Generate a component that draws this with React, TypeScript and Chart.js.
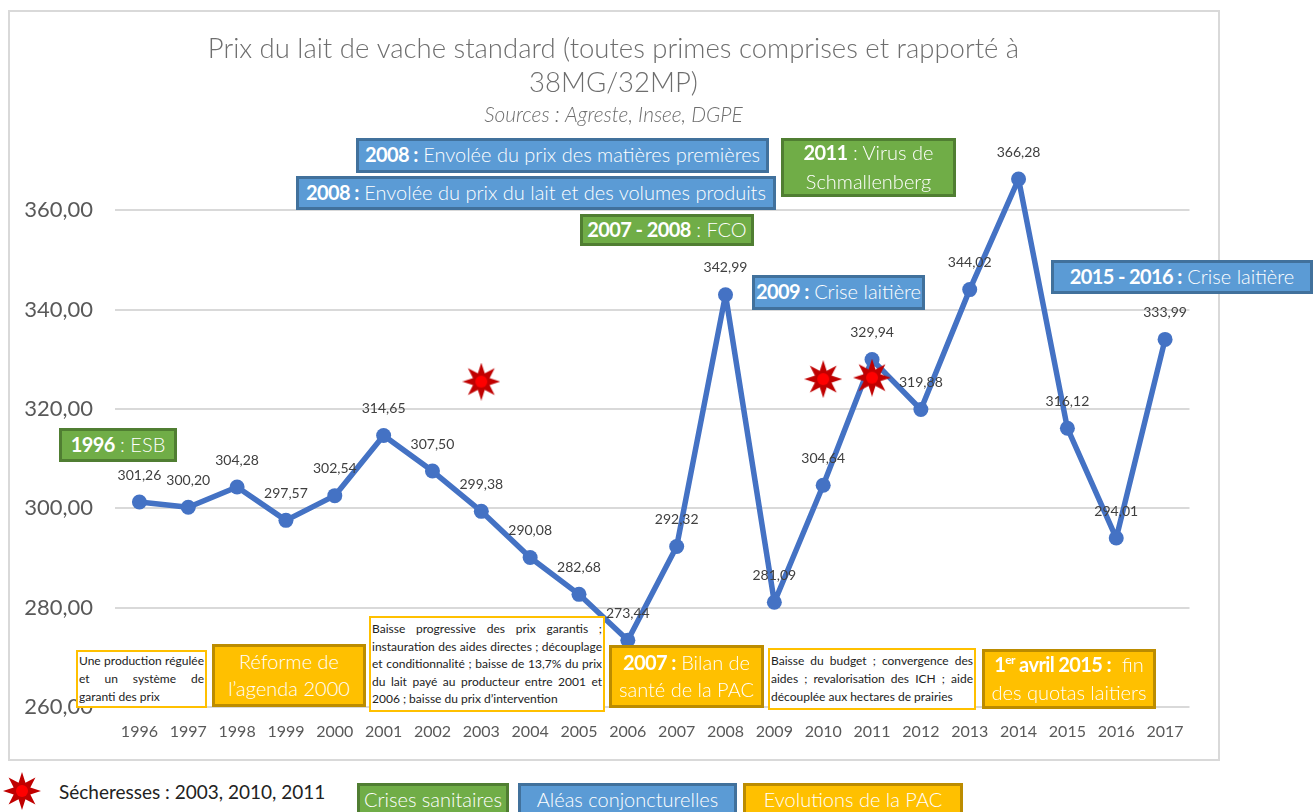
import React, { useEffect, useRef } from "react";
import { Chart, registerables } from "chart.js";

Chart.register(...registerables);

const years = ["1996","1997","1998","1999","2000","2001","2002","2003","2004","2005","2006","2007","2008","2009","2010","2011","2012","2013","2014","2015","2016","2017"];
const prices = [301.26,300.20,304.28,297.57,302.54,314.65,307.50,299.38,290.08,282.68,273.44,292.32,342.99,281.09,304.64,329.94,319.88,344.02,366.28,316.12,294.01,333.99];
const droughtMarks = [null,null,null,null,null,null,null,325.5,null,null,null,null,null,null,326,326.3,null,null,null,null,null,null];
const yTicks = [260,280,300,320,340,360];
const titleLines = ["Prix du lait de vache standard (toutes primes comprises et rapporté à", "38MG/32MP)"];
const subtitleText = "Sources : Agreste, Insee, DGPE";

const FONT = "Lato, 'Noto Sans', sans-serif";
const BLUE = { bg: "#5b9bd5", bd: "#41719c" };
const GREEN = { bg: "#70ad47", bd: "#507e32" };
const GOLD = { bg: "#ffc000", bd: "#bc8c00" };

function starPath(ctx: CanvasRenderingContext2D, c: number, R: number, r: number) {
  ctx.beginPath();
  for (let i = 0; i < 16; i++) {
    const a = -Math.PI / 2 + (i * Math.PI) / 8;
    const q = i % 2 === 0 ? R : r;
    const x = c + q * Math.cos(a);
    const y = c + q * Math.sin(a);
    if (i === 0) ctx.moveTo(x, y); else ctx.lineTo(x, y);
  }
  ctx.closePath();
}

function makeStar(): HTMLCanvasElement {
  const cv = document.createElement("canvas");
  cv.width = 38; cv.height = 38;
  const ctx = cv.getContext("2d")!;
  starPath(ctx, 19, 19, 9);
  ctx.fillStyle = "#c00000";
  ctx.fill();
  ctx.beginPath();
  ctx.arc(19, 19, 6, 0, Math.PI * 2);
  ctx.fillStyle = "#ff0000";
  ctx.fill();
  return cv;
}

const valueLabels = {
  id: "valueLabels",
  afterDatasetsDraw(chart: any) {
    const meta = chart.getDatasetMeta(0);
    const ctx = chart.ctx;
    ctx.save();
    ctx.font = `14px ${FONT}`;
    ctx.fillStyle = "#404040";
    ctx.textAlign = "center";
    ctx.textBaseline = "middle";
    meta.data.forEach((pt: any, i: number) => {
      ctx.fillText(prices[i].toFixed(2).replace(".", ","), pt.x, pt.y - 27);
    });
    ctx.restore();
  },
};

const B = (p: { children: React.ReactNode }) => <b style={{ fontWeight: 700, letterSpacing: -0.6 }}>{p.children}</b>;

function Box(p: { x: number; y: number; w: number; h: number; c: { bg: string; bd: string }; fs?: number; lh?: number; children: React.ReactNode }) {
  return (
    <div style={{ position: "absolute", left: p.x, top: p.y, width: p.w, height: p.h, boxSizing: "border-box", background: p.c.bg, border: `3px solid ${p.c.bd}`, color: "#fff", fontFamily: FONT, fontSize: p.fs ?? 20, fontWeight: 300, lineHeight: `${p.lh ?? 27}px`, display: "flex", alignItems: "center", justifyContent: "center", textAlign: "center", whiteSpace: "nowrap", overflow: "hidden" }}>
      <div style={{ marginTop: -2 }}>{p.children}</div>
    </div>
  );
}

function Note(p: { x: number; y: number; w: number; h: number; lines: string[]; lh: number; fs: number }) {
  return (
    <div style={{ position: "absolute", left: p.x, top: p.y, width: p.w, height: p.h, boxSizing: "border-box", background: "#fff", border: "2px solid #ffc000", color: "#222", fontFamily: FONT, fontSize: p.fs, lineHeight: `${p.lh}px`, padding: "1px 1px", display: "flex", flexDirection: "column", justifyContent: "center" }}>
      {p.lines.map((l, i) => (
        <div key={i} style={{ textAlign: "justify", textAlignLast: i === p.lines.length - 1 ? "left" : "justify", whiteSpace: "nowrap" }}>{l}</div>
      ))}
    </div>
  );
}

function starPoints(c: number, R: number, r: number) {
  const pts: string[] = [];
  for (let i = 0; i < 16; i++) {
    const a = -Math.PI / 2 + (i * Math.PI) / 8;
    const q = i % 2 === 0 ? R : r;
    pts.push(`${c + q * Math.cos(a)},${c + q * Math.sin(a)}`);
  }
  return pts.join(" ");
}

export default function App() {
  const ref = useRef<HTMLCanvasElement>(null);
  useEffect(() => {
    const star = makeStar();
    const chart = new Chart(ref.current!, {
      type: "line",
      data: {
        labels: years,
        datasets: [
          { data: prices, yAxisID: "y", borderColor: "#4472c4", backgroundColor: "#4472c4", borderWidth: 5.5, borderJoinStyle: "round", pointRadius: 7.5, pointBorderWidth: 0, pointBackgroundColor: "#4472c4", pointBorderColor: "#4472c4", tension: 0, order: 2 },
          { data: droughtMarks as any, yAxisID: "y", showLine: false, pointStyle: star as any, order: 1 },
        ],
      },
      options: {
        responsive: false,
        animation: false,
        layout: { padding: 0 },
        plugins: {
          legend: { display: false },
          tooltip: { enabled: false },
          title: { display: true, text: titleLines, color: "#6e6e6e", font: { family: FONT, size: 27.5, weight: "300", lineHeight: 1.24 }, padding: { top: 22, bottom: 3 } },
          subtitle: { display: true, text: subtitleText, color: "#6e6e6e", font: { family: FONT, size: 20.9, weight: "300", style: "italic", lineHeight: 1.15 }, padding: { top: 0, bottom: 33.3 } },
        },
        scales: {
          x: {
            offset: true,
            grid: { display: false },
            border: { display: false },
            ticks: { color: "#595959", font: { family: FONT, size: 16 }, padding: 7, maxRotation: 0, autoSkip: false },
            afterFit(s: any) { s.height = 53; },
          },
          y: {
            min: 260, max: 370,
            grid: { color: "#d9d9d9", lineWidth: 2, drawTicks: false },
            border: { display: false },
            ticks: { color: "#595959", font: { family: FONT, size: 22 }, padding: 22, callback: (v: any) => (v as number).toFixed(2).replace(".", ",") },
            afterBuildTicks(s: any) { s.ticks = yTicks.map((value) => ({ value })); },
            afterFit(s: any) { s.width = 107; },
          },
          rightGutter: {
            type: "linear",
            position: "right",
            min: 260, max: 370,
            grid: { display: false },
            border: { display: false },
            ticks: { display: false },
            afterFit(s: any) { s.width = 29.5; },
          },
        },
      } as any,
      plugins: [valueLabels],
    });
    return () => chart.destroy();
  }, []);

  return (
    <div style={{ position: "absolute", left: 0, top: 0, width: 1316, height: 812, overflow: "hidden", background: "#fff" }}>
      <div style={{ position: "absolute", left: 8, top: 10, width: 1212, height: 751, boxSizing: "border-box", border: "2px solid #d9d9d9" }} />
      <canvas ref={ref} width={1211} height={750} style={{ position: "absolute", left: 8, top: 10 }} />

      <Box x={356} y={138} w={413} h={35} c={BLUE}><B>2008 :</B> Envolée du prix des matières premières</Box>
      <Box x={296} y={176} w={480} h={34} c={BLUE}><B>2008 :</B> Envolée du prix du lait et des volumes produits</Box>
      <Box x={781} y={138} w={175} h={59} c={GREEN} lh={29}><B>2011</B> : Virus de<br />Schmallenberg</Box>
      <Box x={580} y={214} w={174} h={32} c={GREEN}><B>2007 - 2008</B> : FCO</Box>
      <Box x={752} y={275} w={173} h={35} c={BLUE}><B>2009 :</B> Crise laitière</Box>
      <Box x={1051} y={260} w={262} h={34} c={BLUE}><B>2015 - 2016 :</B> Crise laitière</Box>
      <Box x={59} y={428} w={118} h={34} c={GREEN}><B>1996</B> : ESB</Box>

      <Note x={76} y={650} w={131} h={58} fs={12} lh={18} lines={["Une production régulée", "et un système de", "garanti des prix"]} />
      <Box x={212} y={644} w={154} h={63} c={GOLD}>Réforme de<br />l’agenda 2000</Box>
      <Note x={369} y={616} w={236} h={96} fs={12} lh={17.5} lines={["Baisse progressive des prix garantis ;", "instauration des aides directes ; découplage", "et conditionnalité ; baisse de 13,7% du prix", "du lait payé au producteur entre 2001 et", "2006 ; baisse du prix d’intervention"]} />
      <Box x={609} y={645} w={155} h={63} c={GOLD}><B>2007 :</B> Bilan de<br />santé de la PAC</Box>
      <Note x={768} y={648} w={208} h={62} fs={12} lh={18} lines={["Baisse du budget ; convergence des", "aides ; revalorisation des ICH ; aide", "découplée aux hectares de prairies"]} />
      <Box x={982} y={649} w={174} h={60} c={GOLD} lh={28}><B>1<sup style={{ fontSize: 12, lineHeight: 0 }}>er</sup> avril 2015 :</B>&nbsp; fin<br />des quotas laitiers</Box>

      <svg style={{ position: "absolute", left: 3, top: 772 }} width={38} height={38}>
        <polygon points={starPoints(19, 19, 9)} fill="#c00000" />
        <circle cx={19} cy={19} r={6} fill="#ff0000" />
      </svg>
      <div style={{ position: "absolute", left: 59, top: 780, fontFamily: FONT, fontSize: 19, fontWeight: 400, lineHeight: "24px", color: "#222", whiteSpace: "nowrap" }}>Sécheresses : 2003, 2010, 2011</div>
      <Box x={357} y={783} w={152} h={34} c={GREEN} fs={20}>Crises sanitaires</Box>
      <Box x={518} y={783} w={219} h={34} c={BLUE} fs={20}>Aléas conjoncturelles</Box>
      <Box x={743} y={783} w={220} h={34} c={GOLD} fs={20}>Evolutions de la PAC</Box>
    </div>
  );
}
